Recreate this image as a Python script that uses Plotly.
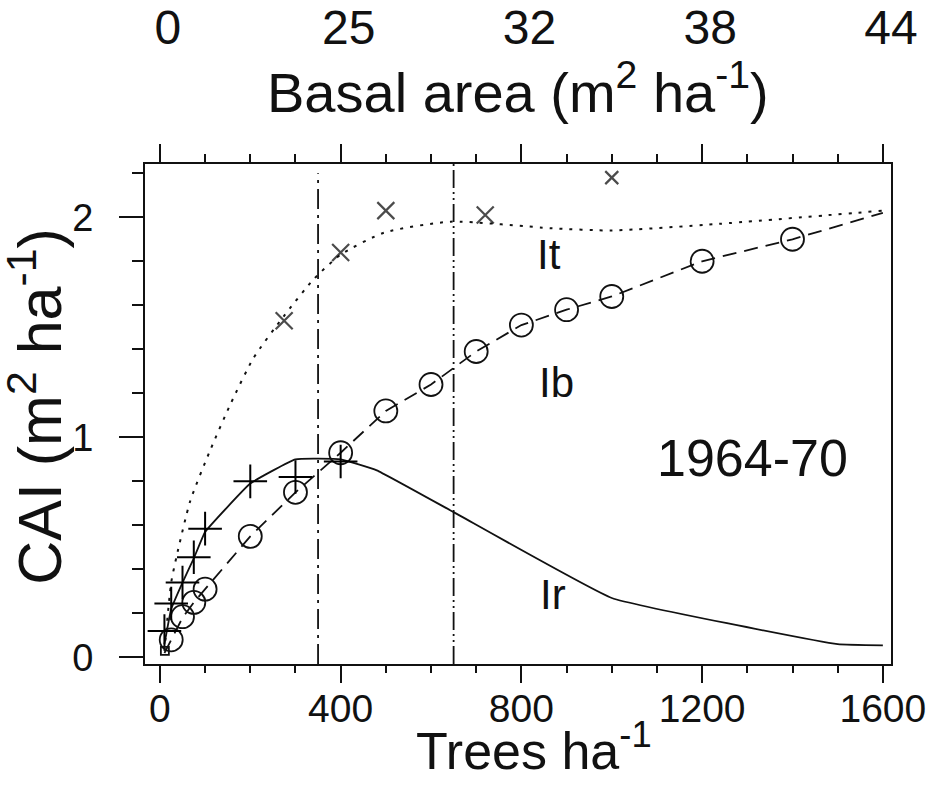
import plotly.graph_objects as go

# ---------------- data ----------------
trees_ticks = [0, 400, 800, 1200, 1600]
basal_labels = ["0", "25", "32", "38", "44"]
cai_ticks = [0, 1, 2]

# It : total increment (dotted curve + x observations)
it_curve_x = [10, 25, 37, 67, 111, 156, 207, 274, 341, 400, 496, 644, 867, 1000, 1237, 1600]
it_curve_y = [0.03, 0.34, 0.46, 0.71, 0.94, 1.15, 1.36, 1.55, 1.72, 1.83, 1.93, 1.98, 1.95, 1.94, 1.97, 2.03]
it_obs_x = [275, 400, 500, 720, 1000]
it_obs_y = [1.53, 1.84, 2.03, 2.01, 2.18]

# Ib : basal area increment (dashed curve + circles)
ib_curve_x = [10, 25, 50, 75, 100, 200, 300, 400, 500, 600, 700, 800, 900, 1000, 1200, 1400, 1600]
ib_curve_y = [0.02, 0.08, 0.18, 0.25, 0.31, 0.55, 0.75, 0.93, 1.12, 1.24, 1.39, 1.51, 1.58, 1.64, 1.80, 1.90, 2.02]
ib_obs_x = [25, 50, 75, 100, 200, 300, 400, 500, 600, 700, 800, 900, 1000, 1200, 1400]
ib_obs_y = [0.08, 0.185, 0.25, 0.31, 0.55, 0.75, 0.93, 1.12, 1.24, 1.39, 1.51, 1.58, 1.64, 1.80, 1.90]

# Ir : recruitment increment (solid curve + plus observations)
ir_curve_x = [10, 25, 50, 75, 100, 200, 300, 400, 480, 650, 1000, 1500, 1600]
ir_curve_y = [0.06, 0.22, 0.34, 0.45, 0.57, 0.79, 0.90, 0.90, 0.85, 0.66, 0.27, 0.06, 0.055]
ir_obs_x = [10, 25, 50, 75, 100, 200, 300, 400]
ir_obs_y = [0.12, 0.245, 0.34, 0.455, 0.585, 0.80, 0.82, 0.89]

origin_x = [11]
origin_y = [0.03]

ref_lines_x = [350, 650]
ref_line_tops = [2.2, 2.242]

curve_labels = ["It", "Ib", "Ir"]
curve_label_x = [862, 877, 871]
curve_label_y = [1.83, 1.247, 0.288]
period_label = "1964-70"

# ---------------- figure ----------------
FONT = "Liberation Sans, Arial, sans-serif"
BLACK = "#111111"

fig = go.Figure()

# reference vertical lines
fig.add_trace(go.Scatter(x=[ref_lines_x[0]] * 2, y=[-0.03, ref_line_tops[0]], mode="lines",
                         line=dict(color=BLACK, width=1.8, dash="20px,6px,3px,6px"),
                         hoverinfo="skip", showlegend=False))
fig.add_trace(go.Scatter(x=[ref_lines_x[1]] * 2, y=[-0.03, ref_line_tops[1]], mode="lines",
                         line=dict(color=BLACK, width=1.8, dash="18px,4px,2px,4px,2px,4px"),
                         hoverinfo="skip", showlegend=False))

# curves
fig.add_trace(go.Scatter(x=it_curve_x, y=it_curve_y, mode="lines",
                         line=dict(color=BLACK, width=2, dash="3px,7px", shape="spline", smoothing=0.6),
                         showlegend=False))
fig.add_trace(go.Scatter(x=ib_curve_x, y=ib_curve_y, mode="lines",
                         line=dict(color=BLACK, width=1.8, dash="14px,8px"),
                         showlegend=False))
fig.add_trace(go.Scatter(x=ir_curve_x, y=ir_curve_y, mode="lines",
                         line=dict(color=BLACK, width=1.8, shape="spline", smoothing=0.3),
                         showlegend=False))

# observations
fig.add_trace(go.Scatter(x=it_obs_x, y=it_obs_y, mode="markers",
                         marker=dict(symbol="x-thin", size=[17, 17, 17, 17, 13], color=BLACK,
                                     line=dict(color="black", width=2.2)),
                         showlegend=False))
fig.add_trace(go.Scatter(x=ib_obs_x, y=ib_obs_y, mode="markers",
                         marker=dict(symbol="circle-open", size=23, color=BLACK,
                                     line=dict(color=BLACK, width=1.8)),
                         showlegend=False))
fig.add_trace(go.Scatter(x=ir_obs_x, y=ir_obs_y, mode="markers",
                         marker=dict(symbol="cross-thin", size=24, color=BLACK,
                                     line=dict(color="black", width=2)),
                         showlegend=False))
fig.add_trace(go.Scatter(x=origin_x, y=origin_y, mode="markers",
                         marker=dict(symbol="square-open", size=8, color=BLACK,
                                     line=dict(color=BLACK, width=1.8)),
                         showlegend=False))

# invisible trace for the top (basal area) axis
fig.add_trace(go.Scatter(x=trees_ticks, y=[None] * len(trees_ticks), xaxis="x2", mode="markers",
                         marker=dict(opacity=0), hoverinfo="skip", showlegend=False))

# text labels
for t, x, y in zip(curve_labels, curve_label_x, curve_label_y):
    fig.add_annotation(x=x, y=y, text=t, showarrow=False, xanchor="center", yanchor="middle",
                       font=dict(family=FONT, size=42, color=BLACK))
fig.add_annotation(x=1312, y=0.906, text=period_label, showarrow=False,
                   xanchor="center", yanchor="middle",
                   font=dict(family=FONT, size=52, color=BLACK))

# axis titles as annotations
fig.add_annotation(xref="paper", yref="paper", x=0.522, y=-0.165,
                   xanchor="center", yanchor="middle",
                   text="Trees ha<sup>-1</sup>", showarrow=False,
                   font=dict(family=FONT, size=52, color=BLACK))
fig.add_annotation(xref="paper", yref="paper", x=0.5, y=1.152,
                   xanchor="center", yanchor="middle",
                   text="Basal area (m<sup>2</sup> ha<sup>-1</sup>)", showarrow=False,
                   font=dict(family=FONT, size=56, color=BLACK))
fig.add_annotation(xref="paper", yref="paper", x=-0.147, y=0.515, textangle=-90,
                   xanchor="center", yanchor="middle",
                   text="CAI (m<sup>2</sup> ha<sup>-1</sup>)", showarrow=False,
                   font=dict(family=FONT, size=61, color=BLACK))

XR = [-33, 1618]
fig.update_layout(
    width=933, height=805,
    margin=dict(l=145, r=42, t=164, b=141, autoexpand=False),
    paper_bgcolor="white", plot_bgcolor="white",
    font=dict(family=FONT, color=BLACK),
    xaxis=dict(range=XR, tickmode="array", tickvals=trees_ticks, automargin=False,
               ticks="outside", ticklen=17, tickwidth=1.8, tickcolor=BLACK,
               minor=dict(tickmode="linear", tick0=0, dtick=100, ticks="outside",
                          ticklen=7, tickwidth=1.8, tickcolor=BLACK),
               showline=True, linewidth=1.8, linecolor=BLACK, mirror=True,
               showgrid=False, zeroline=False, ticklabelstandoff=-8,
               tickfont=dict(family=FONT, size=39, color=BLACK)),
    xaxis2=dict(range=XR, overlaying="x", side="top", anchor="y", automargin=False,
                tickmode="array", tickvals=trees_ticks, ticktext=basal_labels,
                ticks="outside", ticklen=18, tickwidth=1.8, tickcolor=BLACK,
                minor=dict(tickmode="linear", tick0=0, dtick=100, ticks="outside",
                           ticklen=8, tickwidth=1.8, tickcolor=BLACK),
                showline=True, linewidth=1.8, linecolor=BLACK,
                showgrid=False, zeroline=False,
                ticklabelstandoff=81, ticklabelshift=8,
                tickfont=dict(family=FONT, size=48, color=BLACK)),
    yaxis=dict(range=[-0.03, 2.242], tickmode="array", tickvals=cai_ticks, automargin=False,
               ticks="outside", ticklen=24, tickwidth=1.8, tickcolor=BLACK,
               minor=dict(tickmode="linear", tick0=0, dtick=0.2, ticks="outside",
                          ticklen=11, tickwidth=1.8, tickcolor=BLACK),
               showline=True, linewidth=1.8, linecolor=BLACK, mirror=True,
               showgrid=False, zeroline=False, ticklabelstandoff=18,
               tickfont=dict(family=FONT, size=38, color=BLACK)),
)

fig.write_html("out.html")
